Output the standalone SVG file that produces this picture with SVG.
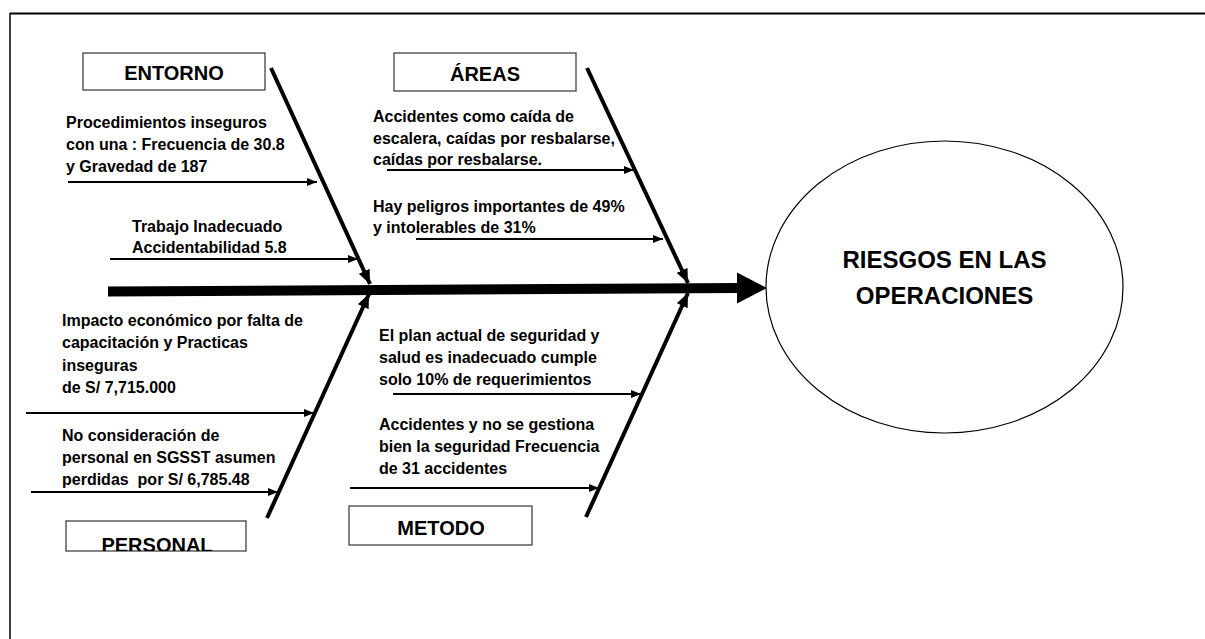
<svg xmlns="http://www.w3.org/2000/svg" width="1205" height="639" viewBox="0 0 1205 639">
  <style>
    .t { font-family: "Liberation Sans", Arial, sans-serif; font-weight: bold; font-size: 16px; fill: #000; }
    .h { font-family: "Liberation Sans", Arial, sans-serif; font-weight: bold; font-size: 20px; fill: #000; text-anchor: middle; }
    .big { font-family: "Liberation Sans", Arial, sans-serif; font-weight: bold; font-size: 24px; fill: #000; text-anchor: middle; }
    .box { fill: #fff; stroke: #333; stroke-width: 1.2; }
    .thin { stroke: #000; stroke-width: 2; fill: none; marker-end: url(#aThin); }
    .diag { stroke: #000; stroke-width: 4; fill: none; marker-end: url(#aDiag); }
  </style>
  <defs>
    <marker id="aThin" markerUnits="userSpaceOnUse" viewBox="0 0 10 8" refX="10" refY="4" markerWidth="10" markerHeight="8" orient="auto">
      <path d="M0,0 L10,4 L0,8 z" fill="#000"/>
    </marker>
    <marker id="aDiag" markerUnits="userSpaceOnUse" viewBox="0 0 14 12" refX="14" refY="6" markerWidth="14" markerHeight="12" orient="auto">
      <path d="M0,0 L14,6 L0,12 z" fill="#000"/>
    </marker>
    <clipPath id="clipPersonal">
      <rect x="66" y="521" width="180" height="30"/>
    </clipPath>
  </defs>
  <rect x="0" y="0" width="1205" height="639" fill="#fff"/>

  <g id="frame">
    <line x1="10" y1="13.5" x2="1205" y2="13.5" stroke="#000" stroke-width="2"/>
    <line x1="10" y1="13" x2="10" y2="639" stroke="#000" stroke-width="1.5"/>
  </g>

  <g id="connectors">
    <line x1="108" y1="291.5" x2="742" y2="288" stroke="#000" stroke-width="10"/>
    <polygon points="737,272.5 767,288 737,303.5" fill="#000"/>
    <line class="diag" x1="271" y1="68" x2="370" y2="284"/>
    <line class="diag" x1="587" y1="68" x2="688" y2="283"/>
    <line class="diag" x1="267" y1="518" x2="369" y2="294"/>
    <line class="diag" x1="586" y1="517" x2="688" y2="293"/>
    <line class="thin" x1="68" y1="182" x2="317" y2="182"/>
    <line class="thin" x1="110" y1="259" x2="358" y2="259"/>
    <line class="thin" x1="387" y1="170" x2="634" y2="170"/>
    <line class="thin" x1="416" y1="239" x2="663" y2="239"/>
    <line class="thin" x1="26" y1="413" x2="314" y2="413"/>
    <line class="thin" x1="31" y1="492" x2="278" y2="492"/>
    <line class="thin" x1="393" y1="394" x2="641" y2="394"/>
    <line class="thin" x1="350" y1="488" x2="599" y2="488"/>
  </g>

  <g id="entorno">
    <rect class="box" x="83" y="53" width="182" height="37"/>
    <text class="h" x="174" y="80">ENTORNO</text>
  </g>
  <g id="entorno-causa-1">
    <text class="t" x="66" y="128">Procedimientos inseguros</text>
    <text class="t" x="66" y="150">con una : Frecuencia de 30.8</text>
    <text class="t" x="66" y="172">y Gravedad de 187</text>
  </g>
  <g id="entorno-causa-2">
    <text class="t" x="132" y="232">Trabajo Inadecuado</text>
    <text class="t" x="132" y="253">Accidentabilidad 5.8</text>
  </g>

  <g id="areas">
    <rect class="box" x="394" y="53" width="182" height="38"/>
    <text class="h" x="485" y="81">ÁREAS</text>
  </g>
  <g id="areas-causa-1">
    <text class="t" x="373" y="122">Accidentes como caída de</text>
    <text class="t" x="373" y="144">escalera, caídas por resbalarse,</text>
    <text class="t" x="373" y="165">caídas por resbalarse.</text>
  </g>
  <g id="areas-causa-2">
    <text class="t" x="373" y="212">Hay peligros importantes de 49%</text>
    <text class="t" x="373" y="233">y intolerables de 31%</text>
  </g>

  <g id="personal">
    <rect class="box" x="66" y="521" width="180" height="30"/>
    <text class="h" x="157" y="552" clip-path="url(#clipPersonal)">PERSONAL</text>
  </g>
  <g id="personal-causa-1">
    <text class="t" x="62" y="326">Impacto económico por falta de</text>
    <text class="t" x="62" y="348">capacitación y Practicas</text>
    <text class="t" x="62" y="371">inseguras</text>
    <text class="t" x="62" y="393">de S/ 7,715.000</text>
  </g>
  <g id="personal-causa-2">
    <text class="t" x="62" y="441">No consideración de</text>
    <text class="t" x="62" y="463">personal en SGSST asumen</text>
    <text class="t" x="62" y="485" xml:space="preserve">perdidas  por S/ 6,785.48</text>
  </g>

  <g id="metodo">
    <rect class="box" x="349" y="506" width="183" height="39"/>
    <text class="h" x="441" y="535">METODO</text>
  </g>
  <g id="metodo-causa-1">
    <text class="t" x="379" y="341">El plan actual de seguridad y</text>
    <text class="t" x="379" y="363">salud es inadecuado cumple</text>
    <text class="t" x="379" y="385">solo 10% de requerimientos</text>
  </g>
  <g id="metodo-causa-2">
    <text class="t" x="379" y="430">Accidentes y no se gestiona</text>
    <text class="t" x="379" y="452">bien la seguridad Frecuencia</text>
    <text class="t" x="379" y="474">de 31 accidentes</text>
  </g>

  <g id="efecto">
    <ellipse cx="944.5" cy="287" rx="178.5" ry="146" fill="#fff" stroke="#000" stroke-width="1.2"/>
    <text class="big" x="944.5" y="268">RIESGOS EN LAS</text>
    <text class="big" x="944.5" y="304">OPERACIONES</text>
  </g>
</svg>
